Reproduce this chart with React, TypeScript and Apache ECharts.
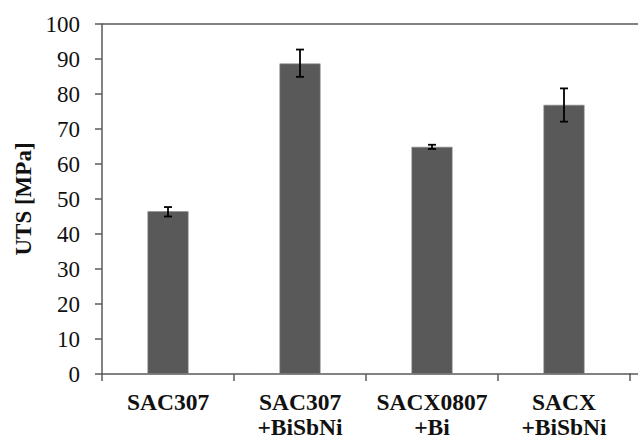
import React, { useEffect, useRef } from "react";
import * as echarts from "echarts";

const categories = ["SAC307", "SAC307\n+BiSbNi", "SACX0807\n+Bi", "SACX\n+BiSbNi"];
const utsValues = [46.5, 88.7, 64.9, 76.9];
const errLow = [45.0, 84.9, 64.3, 72.1];
const errHigh = [47.7, 92.7, 65.5, 81.6];
const yTicks = { min: 0, max: 100, interval: 10 };

const FONT = "Times New Roman, Liberation Serif, DejaVu Serif, serif";
const AXIS = "#5a5a5a";

export default function App() {
  const ref = useRef<HTMLDivElement>(null);
  useEffect(() => {
    if (!ref.current) return;
    const chart = echarts.init(ref.current, undefined, { renderer: "svg" });
    const errData = categories.map((_, i) => [i, errLow[i], errHigh[i]]);
    chart.setOption({
      animation: false,
      backgroundColor: "#ffffff",
      textStyle: { fontFamily: FONT },
      grid: { left: 102, top: 24, right: 8, bottom: 66 },
      xAxis: {
        type: "category",
        data: categories,
        axisLine: { lineStyle: { color: AXIS, width: 1.5 } },
        axisTick: { show: true, length: 7, lineStyle: { color: AXIS, width: 1.5 } },
        axisLabel: {
          interval: 0,
          color: "#111",
          fontFamily: FONT,
          fontWeight: "bold",
          fontSize: 23.5,
          lineHeight: 24.5,
          margin: 16,
        },
      },
      yAxis: {
        type: "value",
        min: yTicks.min,
        max: yTicks.max,
        interval: yTicks.interval,
        name: "UTS [MPa]",
        nameLocation: "middle",
        nameGap: 64,
        nameTextStyle: { color: "#111", fontFamily: FONT, fontWeight: "bold", fontSize: 23 },
        axisLine: { show: true, lineStyle: { color: AXIS, width: 1.5 } },
        axisTick: { show: true, length: 7, lineStyle: { color: AXIS, width: 1.5 } },
        axisLabel: { color: "#111", fontFamily: FONT, fontSize: 23, margin: 22 },
        splitLine: { show: false },
      },
      graphic: [
        {
          type: "line",
          shape: { x1: 102, y1: 24, x2: 638, y2: 24 },
          style: { stroke: AXIS, lineWidth: 1.5 },
          z: 10,
        },
        {
          type: "line",
          shape: { x1: 629, y1: 374, x2: 638, y2: 374 },
          style: { stroke: AXIS, lineWidth: 1.5 },
          z: 10,
        },
      ],
      series: [
        {
          type: "bar",
          data: utsValues,
          barWidth: 41,
          itemStyle: { color: "#595959", borderColor: "#8a8a8a", borderWidth: 0.6 },
        },
        {
          type: "custom",
          data: errData,
          z: 5,
          renderItem: (params: any, api: any) => {
            const x = api.value(0);
            const lo = api.coord([x, api.value(1)]);
            const hi = api.coord([x, api.value(2)]);
            const w = 4;
            const style = { stroke: "#000", lineWidth: 1.8 };
            return {
              type: "group",
              children: [
                { type: "line", shape: { x1: lo[0], y1: lo[1], x2: hi[0], y2: hi[1] }, style },
                { type: "line", shape: { x1: hi[0] - w, y1: hi[1], x2: hi[0] + w, y2: hi[1] }, style },
                { type: "line", shape: { x1: lo[0] - w, y1: lo[1], x2: lo[0] + w, y2: lo[1] }, style },
              ],
            };
          },
        },
      ],
    });
    return () => chart.dispose();
  }, []);
  return (
    <div
      ref={ref}
      style={{ position: "fixed", left: 0, top: 0, width: 638, height: 440, background: "#fff" }}
    />
  );
}
